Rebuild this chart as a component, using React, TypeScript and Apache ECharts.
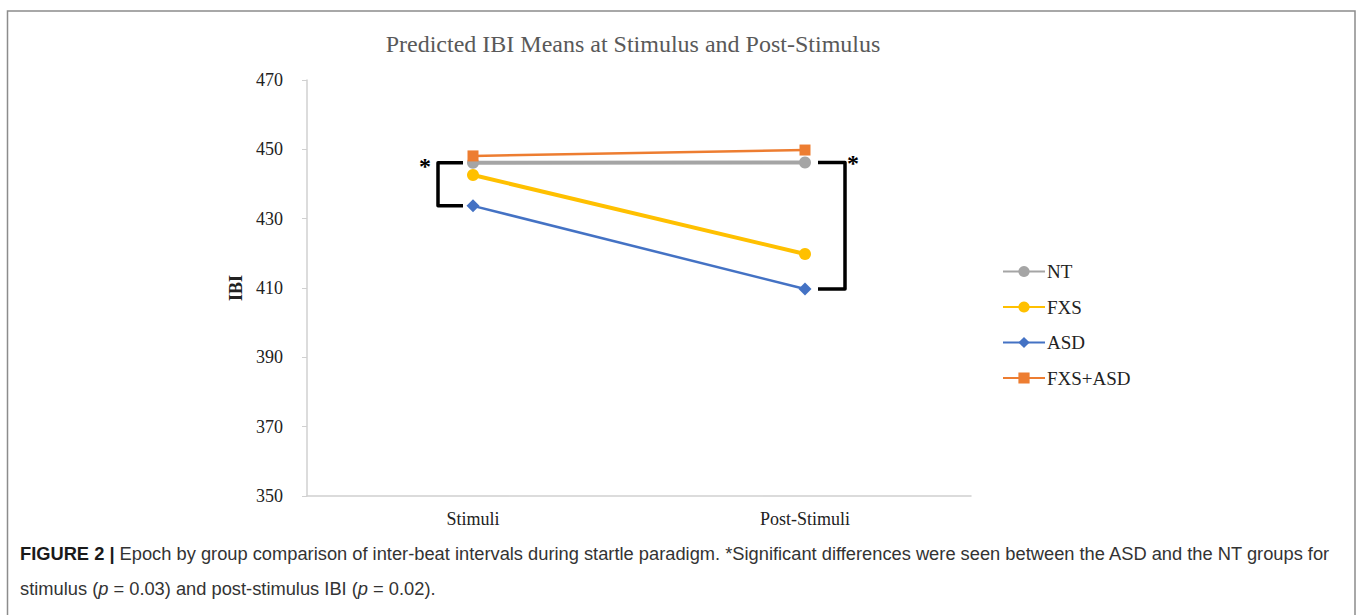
import React, { useEffect, useRef } from "react";
import * as echarts from "echarts";

const categories = ["Stimuli", "Post-Stimuli"];
const seriesNames = ["NT", "FXS", "ASD", "FXS+ASD"];
const ntValues = [446.1, 446.2];
const fxsValues = [442.6, 419.8];
const asdValues = [433.7, 409.7];
const fxsAsdValues = [448.1, 449.8];
const yTicks = { min: 350, max: 470, interval: 20 };
const titleText = "Predicted IBI Means at Stimulus and Post-Stimulus";
const captionBold = "FIGURE 2 | ";
const captionLine1 =
  "Epoch by group comparison of inter-beat intervals during startle paradigm. *Significant differences were seen between the ASD and the NT groups for";
const captionLine2a = "stimulus (";
const captionLine2b = "p";
const captionLine2c = " = 0.03) and post-stimulus IBI (";
const captionLine2d = " = 0.02).";

const SERIF = '"Liberation Serif", "Times New Roman", serif';
const SANS = '"Liberation Sans", Arial, sans-serif';
const CAP = 18.3;

export default function App() {
  const ref = useRef<HTMLDivElement>(null);
  useEffect(() => {
    if (!ref.current) return;
    const chart = echarts.init(ref.current, null, { renderer: "svg" });
    const mk = (name: string, data: number[], color: string, symbol: string, size: number, width: number) => ({
      name,
      type: "line",
      data,
      symbol,
      symbolSize: size,
      itemStyle: { color },
      lineStyle: { color, width },
    });
    chart.setOption({
      animation: false,
      backgroundColor: "#fff",
      title: {
        text: titleText,
        left: 628,
        textAlign: "center",
        top: 27,
        textStyle: { fontFamily: SERIF, fontSize: 24, fontWeight: "normal", color: "#595959" },
      },
      grid: { left: 307, right: 387, top: 80, bottom: 119 },
      xAxis: {
        type: "category",
        data: categories,
        axisLine: { lineStyle: { color: "#d0d0d0", width: 1.5 } },
        axisTick: { show: false },
        axisLabel: { fontFamily: SERIF, fontSize: 18, color: "#222", margin: 14 },
      },
      yAxis: {
        type: "value",
        min: yTicks.min,
        max: yTicks.max,
        interval: yTicks.interval,
        name: "IBI",
        nameLocation: "middle",
        nameGap: 62,
        nameTextStyle: { fontFamily: SERIF, fontSize: 18, fontWeight: "bold", color: "#222" },
        axisLine: { show: true, lineStyle: { color: "#d0d0d0", width: 1.5 } },
        axisTick: { show: true, length: 5, lineStyle: { color: "#d0d0d0" } },
        splitLine: { show: false },
        axisLabel: { fontFamily: SERIF, fontSize: 18, color: "#222", margin: 24 },
      },
      legend: {
        orient: "vertical",
        left: 997,
        top: 257,
        itemWidth: 42,
        itemHeight: 14,
        itemGap: 16.5,
        data: seriesNames,
        textStyle: { fontFamily: SERIF, fontSize: 19, color: "#222", padding: [0, 0, 0, -3] },
      },
      series: [
        mk(seriesNames[0], ntValues, "#A5A5A5", "circle", 12, 4),
        mk(seriesNames[1], fxsValues, "#FFC000", "circle", 12, 4),
        mk(seriesNames[2], asdValues, "#4472C4", "diamond", 13, 2.5),
        mk(seriesNames[3], fxsAsdValues, "#ED7D31", "rect", 11, 2.5),
      ],
    });

    const p = (i: number, v: number) => chart.convertToPixel({ xAxisIndex: 0, yAxisIndex: 0 }, [i, v]) as number[];
    const l0 = p(0, ntValues[0]);
    const l1 = p(0, asdValues[0]);
    const r0 = p(1, ntValues[1]);
    const r1 = p(1, asdValues[1]);
    const bracketStyle = { stroke: "#000", lineWidth: 3.5, fill: null, lineJoin: "round" };

    chart.setOption({
      graphic: [
        {
          type: "rect",
          shape: { x: 7.5, y: 11, width: 1347.5, height: 620 },
          style: { fill: null, stroke: "#8c8c8c", lineWidth: 1.5 },
          silent: true,
        },
        {
          type: "polyline",
          shape: {
            points: [
              [l0[0] - 10, l0[1]],
              [l0[0] - 35, l0[1]],
              [l0[0] - 35, l1[1]],
              [l0[0] - 10, l1[1]],
            ],
          },
          style: bracketStyle,
        },
        {
          type: "polyline",
          shape: {
            points: [
              [r0[0] + 13, r0[1]],
              [r0[0] + 40, r0[1]],
              [r0[0] + 40, r1[1]],
              [r0[0] + 13, r1[1]],
            ],
          },
          style: bracketStyle,
        },
        {
          type: "text",
          x: l0[0] - 48,
          y: l0[1] + 3,
          style: { text: "*", fontFamily: SERIF, fontSize: 24, fontWeight: "bold", fill: "#000", align: "center", verticalAlign: "middle" },
        },
        {
          type: "text",
          x: r0[0] + 48,
          y: r0[1],
          style: { text: "*", fontFamily: SERIF, fontSize: 24, fontWeight: "bold", fill: "#000", align: "center", verticalAlign: "middle" },
        },
        {
          type: "text",
          x: 20,
          y: 553,
          style: {
            text: "{b|" + captionBold + "}{n|" + captionLine1 + "}",
            verticalAlign: "middle",
            rich: {
              b: { fontFamily: SANS, fontSize: CAP, fontWeight: "bold", fill: "#1a1a1a" },
              n: { fontFamily: SANS, fontSize: CAP, fill: "#333" },
            },
          },
        },
        {
          type: "text",
          x: 20,
          y: 588,
          style: {
            text:
              "{n|" + captionLine2a + "}{i|" + captionLine2b + "}{n|" + captionLine2c + "}{i|" + captionLine2b + "}{n|" + captionLine2d + "}",
            verticalAlign: "middle",
            rich: {
              n: { fontFamily: SANS, fontSize: CAP, fill: "#333" },
              i: { fontFamily: SANS, fontSize: CAP, fontStyle: "italic", fill: "#333" },
            },
          },
        },
      ],
    });
    return () => chart.dispose();
  }, []);
  return (
    <div
      ref={ref}
      style={{ position: "fixed", left: 0, top: 0, width: 1358, height: 615, background: "#fff" }}
    />
  );
}
